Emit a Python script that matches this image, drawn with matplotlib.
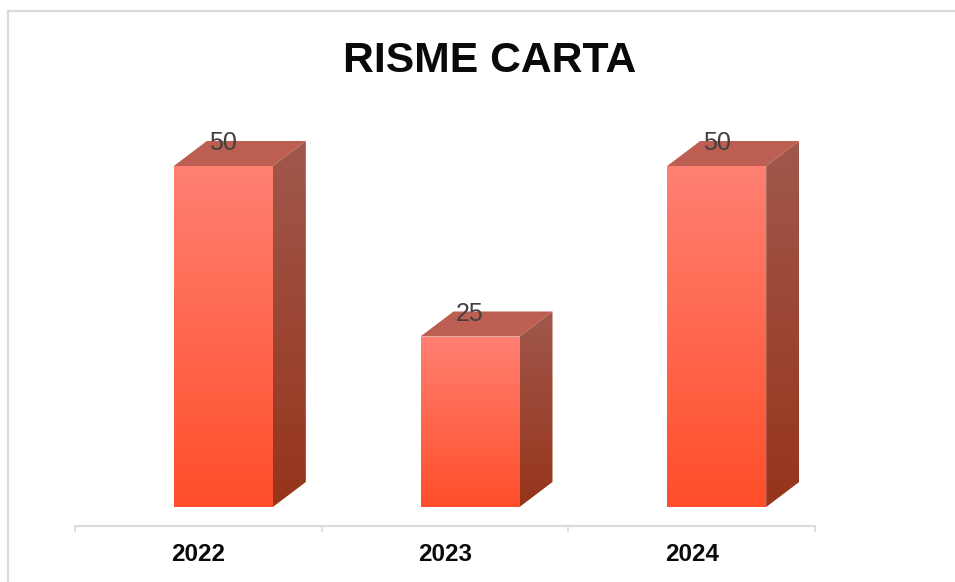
import numpy as np
import matplotlib
matplotlib.use('Agg')
import matplotlib.pyplot as plt
from matplotlib.colors import LinearSegmentedColormap
from matplotlib.patches import Polygon

plt.rcParams['font.family'] = ['Liberation Sans', 'DejaVu Sans']

# Data
years = ['2022', '2023', '2024']
risme = [50, 25, 50]

W, H = 955, 582
fig = plt.figure(figsize=(W / 100, H / 100), dpi=100, facecolor='white')

# chart frame, runs off the right and bottom of the picture
frame_color = '#DADADA'
fig.add_artist(plt.Line2D([8 / W, 8 / W], [0, 1 - 11 / H], color=frame_color, lw=1.6))
fig.add_artist(plt.Line2D([8 / W, 1], [1 - 11 / H, 1 - 11 / H], color=frame_color, lw=1.6))

# axes box in pixels: x axis line at y=526, zero of the bars at y=507
left, right, axis_y, top = 75, 815, 526, 100
ax = fig.add_axes([left / W, 1 - axis_y / H, (right - left) / W, (axis_y - top) / H])
px_x = (right - left) / 3
px_y = 6.82
ax.set_xlim(-0.5, 2.5)
ax.set_ylim(-19 / px_y, (507 - top) / px_y)

offset = 25 / px_x   # front face sits right of the category centre
width = 99 / px_x
depth_x = 33 / px_x
depth_y = 25 / px_y

front_cmap = LinearSegmentedColormap.from_list('front', ['#FF4E2A', '#FF8072'])
side_cmap = LinearSegmentedColormap.from_list('side', ['#97341B', '#A0584C'])
grad = np.linspace(0, 1, 256).reshape(-1, 1)


def fill_gradient(pts, cmap, y0, y1):
    x0 = min(p[0] for p in pts)
    x1 = max(p[0] for p in pts)
    im = ax.imshow(grad, cmap=cmap, origin='lower', aspect='auto',
                   extent=[x0, x1, y0, y1], zorder=2)
    clip = Polygon(pts, closed=True, transform=ax.transData, fc='none', ec='none')
    ax.add_patch(clip)
    im.set_clip_path(clip)


for i, v in enumerate(risme):
    x0 = i + offset - width / 2
    x1 = x0 + width
    # front
    fill_gradient([(x0, 0), (x1, 0), (x1, v), (x0, v)], front_cmap, 0, v)
    # side
    fill_gradient([(x1, 0), (x1 + depth_x, depth_y), (x1 + depth_x, v + depth_y), (x1, v)],
                  side_cmap, 0, v + depth_y)
    # top
    ax.add_patch(Polygon([(x0, v), (x1, v), (x1 + depth_x, v + depth_y), (x0 + depth_x, v + depth_y)],
                         closed=True, fc='#BC5F52', ec='none', zorder=3))
    ax.text(i + offset, v + depth_y - 2 / px_y, str(v), ha='center', va='center',
            fontsize=18, color='#404040', zorder=4)

ax.set_xlim(-0.5, 2.5)
ax.set_ylim(-19 / px_y, (507 - top) / px_y)

for s in ['top', 'right', 'left']:
    ax.spines[s].set_visible(False)
ax.spines['bottom'].set_color(frame_color)
ax.spines['bottom'].set_linewidth(1.5)
ax.set_yticks([])
ax.set_xticks([0, 1, 2])
ax.set_xticklabels(years, fontsize=17.4, fontweight='bold', color='#0A0A0A')
ax.set_xticks([-0.5, 0.5, 1.5, 2.5], minor=True)
ax.tick_params(axis='x', which='major', length=0, pad=12)
ax.tick_params(axis='x', which='minor', length=4.5, width=1.2, color=frame_color)
ax.patch.set_alpha(0)

fig.text(490 / W, 1 - 61 / H, 'RISME CARTA', ha='center', va='center',
         fontsize=30.7, fontweight='bold', color='#0A0A0A')

fig.savefig('out.png', dpi=100)
